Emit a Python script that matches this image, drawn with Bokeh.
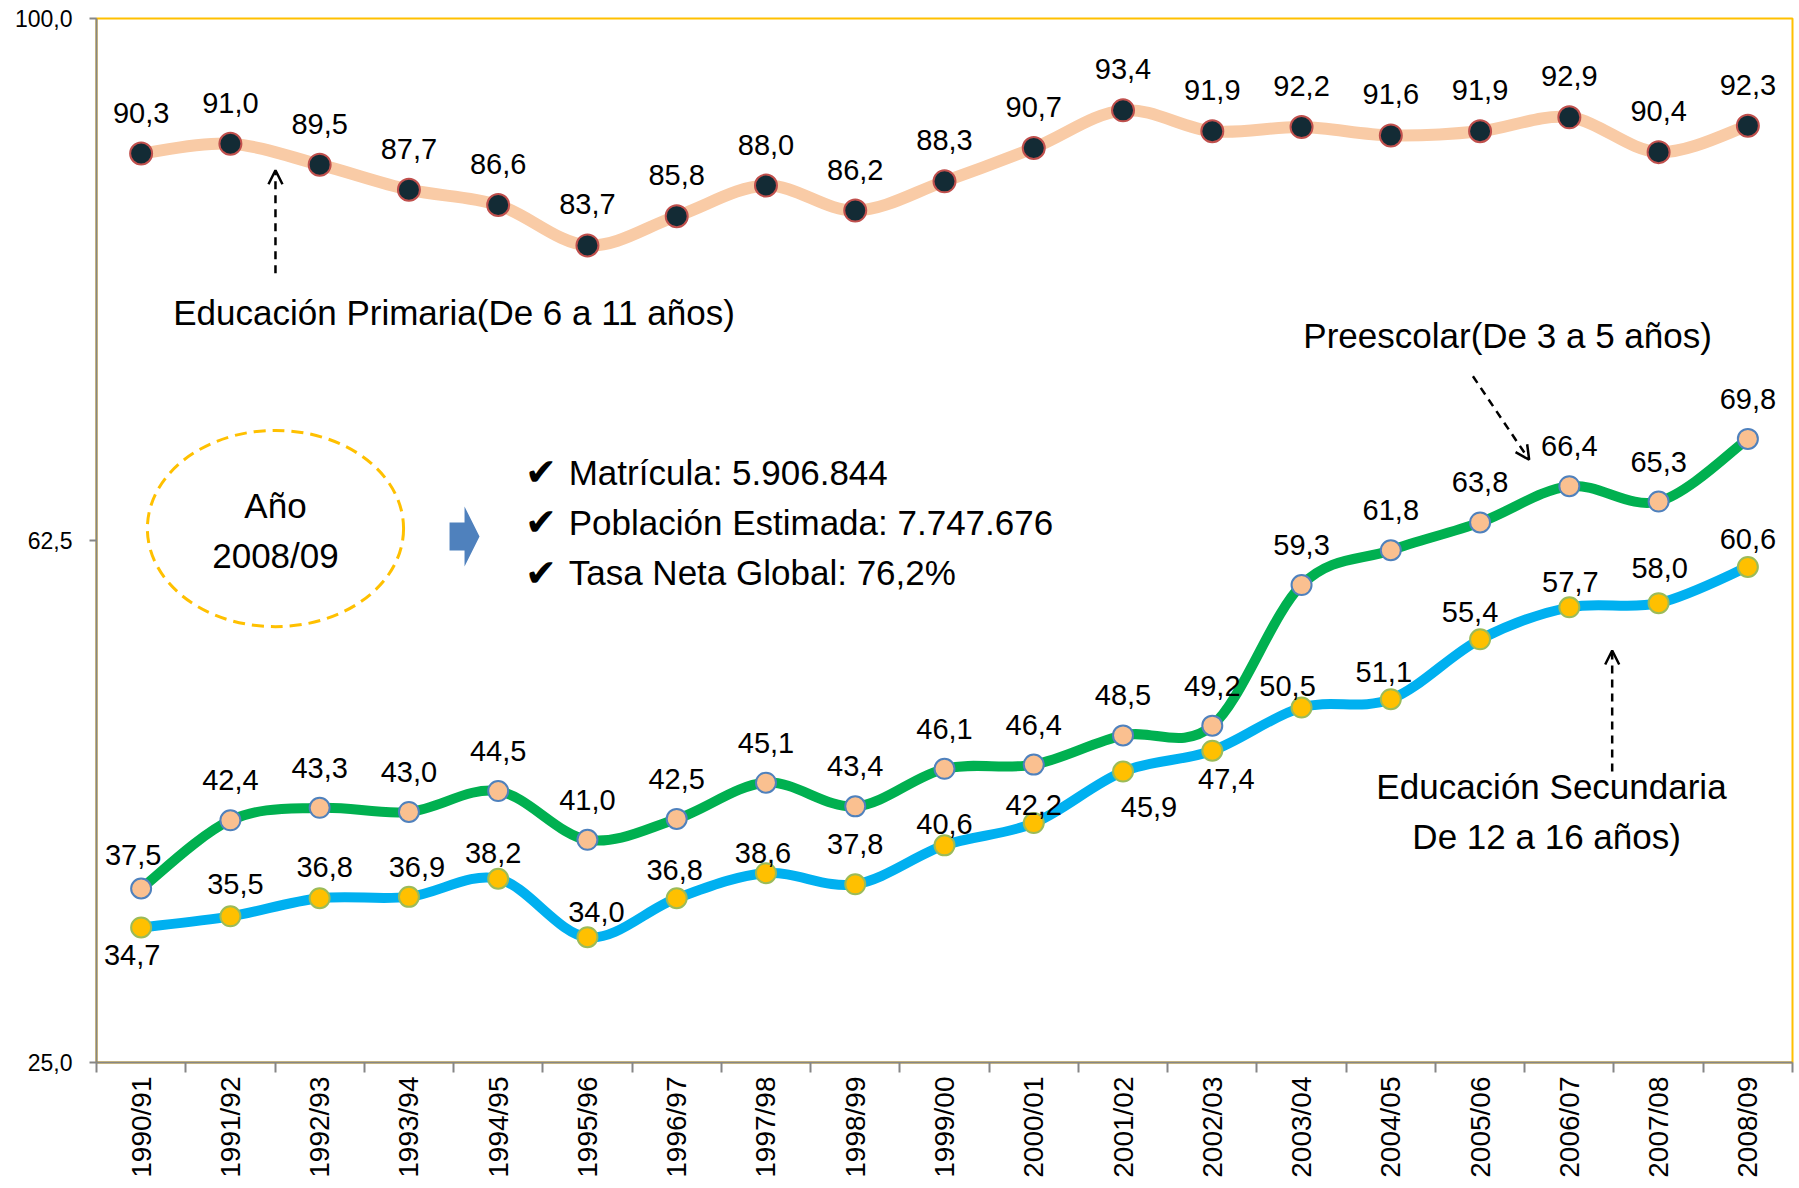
import numpy as np
from bokeh.plotting import figure
from bokeh.models import Range1d, FixedTicker, ColumnDataSource, Arrow, OpenHead, Label
from bokeh.core.properties import value
from bokeh.embed import file_html
from bokeh.resources import INLINE

# ---------------- data ----------------
years = ["1990/91", "1991/92", "1992/93", "1993/94", "1994/95", "1995/96", "1996/97",
         "1997/98", "1998/99", "1999/00", "2000/01", "2001/02", "2002/03", "2003/04",
         "2004/05", "2005/06", "2006/07", "2007/08", "2008/09"]
primaria = [90.3, 91.0, 89.5, 87.7, 86.6, 83.7, 85.8, 88.0, 86.2, 88.3, 90.7, 93.4,
            91.9, 92.2, 91.6, 91.9, 92.9, 90.4, 92.3]
preescolar = [37.5, 42.4, 43.3, 43.0, 44.5, 41.0, 42.5, 45.1, 43.4, 46.1, 46.4, 48.5,
              49.2, 59.3, 61.8, 63.8, 66.4, 65.3, 69.8]
secundaria = [34.7, 35.5, 36.8, 36.9, 38.2, 34.0, 36.8, 38.6, 37.8, 40.6, 42.2, 45.9,
              47.4, 50.5, 51.1, 55.4, 57.7, 58.0, 60.6]
y_ticks = [25.0, 62.5, 100.0]
y_tick_labels = ["25,0", "62,5", "100,0"]

# label offsets (screen px) -- styling only
prim_dx = [0] * 19
prim_dy = [-41] * 19
pre_dx = [-8] + [0] * 18
pre_dy = [-34] + [-40] * 18
sec_dx = [-9, 5, 5, 8, -5, 9, -2, -3, 0, 0, 0, 26, 14, -14, -7, -10, 1, 1, 0]
sec_dy = [28, -32, -31, -30, -26, -25, -28, -20, -40, -21, -18, 35, 28, -22, -27, -27, -25, -35, -28]

SANS = "Liberation Sans"
GRAY = "#868686"

p = figure(width=1799, height=1188, x_range=Range1d(0, len(years)), y_range=Range1d(25, 100),
           output_backend="svg", toolbar_location=None,
           min_border_left=96, min_border_right=7, min_border_top=18, min_border_bottom=126)
p.outline_line_color = "#FFC000"
p.outline_line_width = 2
p.xgrid.visible = False
p.ygrid.visible = False
p.background_fill_color = "white"
p.border_fill_color = "white"

xs = np.arange(len(years)) + 0.5

# x axis: labels at category centres, tick marks at boundaries
p.xaxis.ticker = FixedTicker(ticks=list(xs), minor_ticks=list(range(len(years) + 1)))
p.xaxis.major_label_overrides = {float(x): lab for x, lab in zip(xs, years)}
p.xaxis.major_label_orientation = np.pi / 2
p.xaxis.major_tick_line_color = None
p.xaxis.major_tick_out = 10
p.xaxis.major_tick_in = 0
p.xaxis.minor_tick_out = 10
p.xaxis.minor_tick_in = 0
p.xaxis.minor_tick_line_color = GRAY
p.xaxis.minor_tick_line_width = 2
p.xaxis.axis_line_color = GRAY
p.xaxis.axis_line_width = 2
p.xaxis.major_label_standoff = 4
p.xaxis.major_label_text_font = SANS
p.xaxis.major_label_text_font_size = "28px"
p.xaxis.major_label_text_color = "black"

p.yaxis.ticker = FixedTicker(ticks=y_ticks, minor_ticks=[])
p.yaxis.major_label_overrides = {t: l for t, l in zip(y_ticks, y_tick_labels)}
p.yaxis.major_tick_out = 7
p.yaxis.major_tick_in = 0
p.yaxis.major_tick_line_color = GRAY
p.yaxis.major_tick_line_width = 2
p.yaxis.minor_tick_line_color = None
p.yaxis.axis_line_color = GRAY
p.yaxis.axis_line_width = 2
p.yaxis.major_label_standoff = 17
p.yaxis.major_label_text_font = SANS
p.yaxis.major_label_text_font_size = "23px"
p.yaxis.major_label_text_color = "black"


def smooth_segments(vals):
    y = np.asarray(vals, dtype=float)
    n = len(y)
    ex = np.concatenate([[xs[0]], xs, [xs[-1]]])
    ey = np.concatenate([[y[0]], y, [y[-1]]])
    return dict(
        x0=ex[1:n], y0=ey[1:n], x1=ex[2:n + 1], y1=ey[2:n + 1],
        cx0=ex[1:n] + (ex[2:n + 1] - ex[0:n - 1]) / 6.0,
        cy0=ey[1:n] + (ey[2:n + 1] - ey[0:n - 1]) / 6.0,
        cx1=ex[2:n + 1] - (ex[3:n + 2] - ex[1:n]) / 6.0,
        cy1=ey[2:n + 1] - (ey[3:n + 2] - ey[1:n]) / 6.0,
    )


series = [
    (secundaria, "#00B0F0", 10, "#FFC000", "#9BBB59", 20, sec_dx, sec_dy),
    (preescolar, "#00B050", 10, "#FAC090", "#4F81BD", 20, pre_dx, pre_dy),
    (primaria, "#F9CBA6", 12, "#132B35", "#C0504D", 22, prim_dx, prim_dy),
]

for vals, lc, lw, fc, oc, sz, dx, dy in series:
    seg = ColumnDataSource(smooth_segments(vals))
    p.bezier(x0="x0", y0="y0", x1="x1", y1="y1", cx0="cx0", cy0="cy0", cx1="cx1", cy1="cy1",
             source=seg, line_color=lc, line_width=lw, line_cap="round")

for vals, lc, lw, fc, oc, sz, dx, dy in series:
    src = ColumnDataSource(dict(x=xs, y=vals,
                                lab=[f"{v:.1f}".replace(".", ",") for v in vals],
                                dx=dx, dy=dy))
    p.scatter(x="x", y="y", source=src, size=sz, fill_color=fc, line_color=oc, line_width=2)
    p.text(x="x", y="y", text="lab", source=src, x_offset="dx", y_offset="dy",
           text_align="center", text_baseline="middle", text_font=value(SANS),
           text_font_size="29px", text_color="black")

# ---------------- annotations ----------------
def lab(x, y, t, size="35px", align="left", font=SANS, style="normal"):
    p.add_layout(Label(x=x, y=y, text=t, text_font=font, text_font_size=size,
                       text_font_style=style,
                       text_align=align, text_baseline="middle", text_color="black"))


lab(0.86, 78.9, "Educación Primaria(De 6 a 11 años)")
lab(13.52, 77.2, "Preescolar(De 3 a 5 años)")
lab(16.30, 44.8, "Educación Secundaria", align="center")
lab(16.30, 41.2, "De  12 a 16 años)", align="center")
lab(2.005, 65.0, "Año", align="center")
lab(2.005, 61.4, "2008/09", align="center")

checks = ["Matrícula: 5.906.844", "Población Estimada: 7.747.676", "Tasa Neta Global: 76,2%"]
for yy, t in zip([67.4, 63.8, 60.2], checks):
    lab(4.80, yy, "✔", size="38px", font="DejaVu Sans")
    lab(5.29, yy, t, size="35px")

for (xa, ya, xb, yb) in [(2.005, 81.7, 2.005, 89.1), (15.42, 74.3, 16.05, 68.3),
                         (16.98, 45.9, 16.98, 54.6)]:
    p.add_layout(Arrow(end=OpenHead(size=14, line_width=2.5, line_color="black"),
                       x_start=xa, y_start=ya, x_end=xb, y_end=yb,
                       line_width=2.5, line_dash="8 6", line_color="black"))

p.ellipse(x=[2.005], y=[63.36], width=[2.87], height=[14.1], fill_color=None,
          line_color="#FFC000", line_width=3, line_dash="12 7")

p.patch(x=[3.955, 4.123, 4.123, 4.291, 4.123, 4.123, 3.955],
        y=[61.78, 61.78, 60.63, 62.79, 64.94, 63.79, 63.79],
        fill_color="#4F81BD", line_color=None)

open("out.html", "w").write(file_html(p, INLINE))
